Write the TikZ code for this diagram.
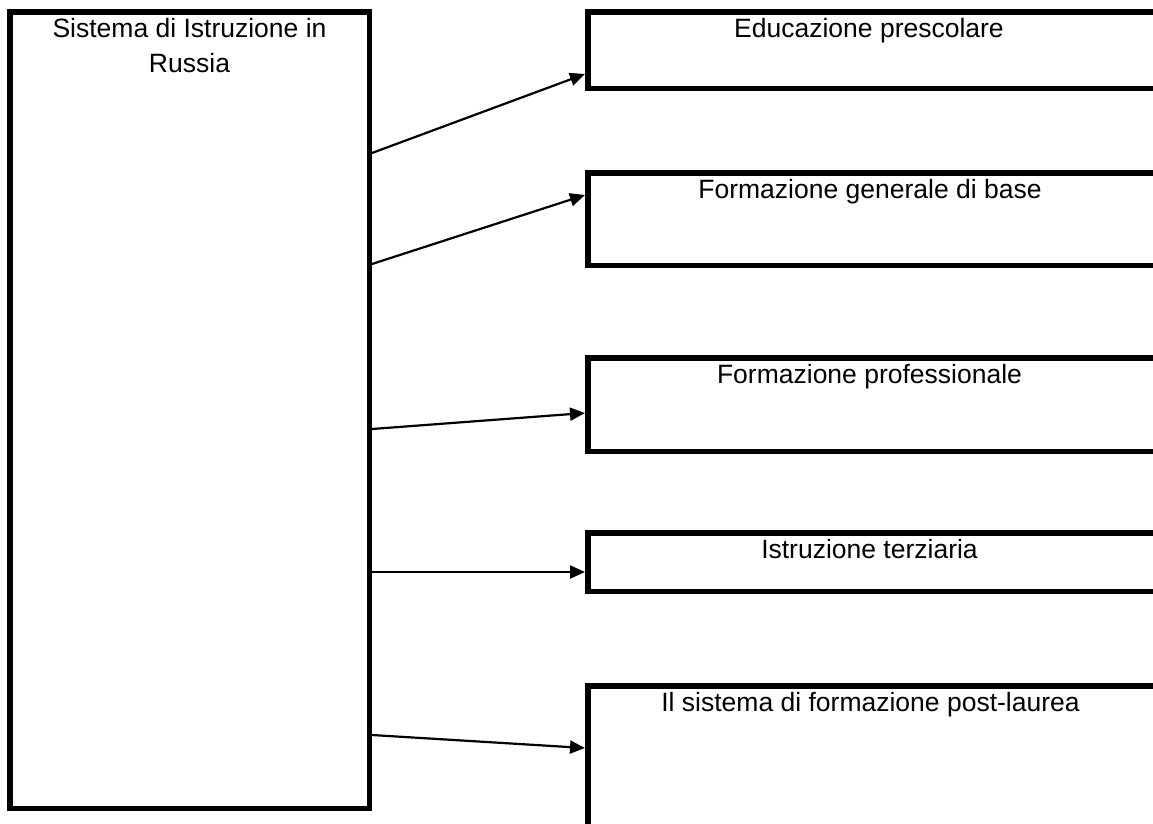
\documentclass[tikz,border=0pt]{standalone}
\usepackage{fontspec}
\setmainfont{Liberation Sans}
\usetikzlibrary{arrows.meta}
\tikzset{
  boxstyle/.style={draw=black, line width=5.5pt, fill=white, inner sep=0pt, minimum width=#1, anchor=north west},
  labelstyle/.style={font=\fontsize{26.5}{35}\selectfont, inner sep=0pt, anchor=base, align=center},
  arr/.style={line width=2.2pt, -{Triangle[length=15pt,width=13pt]}}
}
\begin{document}
\begin{tikzpicture}[x=1pt,y=-1pt]
\useasboundingbox (0,0) rectangle (1153,823);
\fill[white] (0,0) rectangle (1153,823);
\clip (0,0) rectangle (1153,823);
% main box
\node[boxstyle=359.5pt, minimum height=796.5pt] (main) at (7,9) {};
% right boxes (extend beyond right edge)
\node[boxstyle=571pt, minimum height=76.5pt]  (b1) at (585,9) {};
\node[boxstyle=571pt, minimum height=92.5pt]  (b2) at (585,170) {};
\node[boxstyle=571pt, minimum height=93.5pt]  (b3) at (585,355) {};
\node[boxstyle=571pt, minimum height=58.5pt]  (b4) at (585,530) {};
\node[boxstyle=571pt, minimum height=300pt] (b5) at (585,683) {};
% labels
\node[labelstyle] (tmain) at (189.5,72) {Sistema di Istruzione in\\Russia};
\node[labelstyle] (t1) at (869,37)  {Educazione prescolare};
\node[labelstyle] (t2) at (870,198) {Formazione generale di base};
\node[labelstyle] (t3) at (869.5,383) {Formazione professionale};
\node[labelstyle] (t4) at (869.5,558) {Istruzione terziaria};
\node[labelstyle] (t5) at (870.5,711) {Il sistema di formazione post-laurea};
% connectors
\draw[arr] (main.east |- 0,153) -- (b1.west |- 0,74);
\draw[arr] (main.east |- 0,264) -- (b2.west |- 0,195);
\draw[arr] (main.east |- 0,429) -- (b3.west |- 0,413);
\draw[arr] (main.east |- 0,572) -- (b4.west |- 0,572);
\draw[arr] (main.east |- 0,735) -- (b5.west |- 0,748);
\end{tikzpicture}
\end{document}
